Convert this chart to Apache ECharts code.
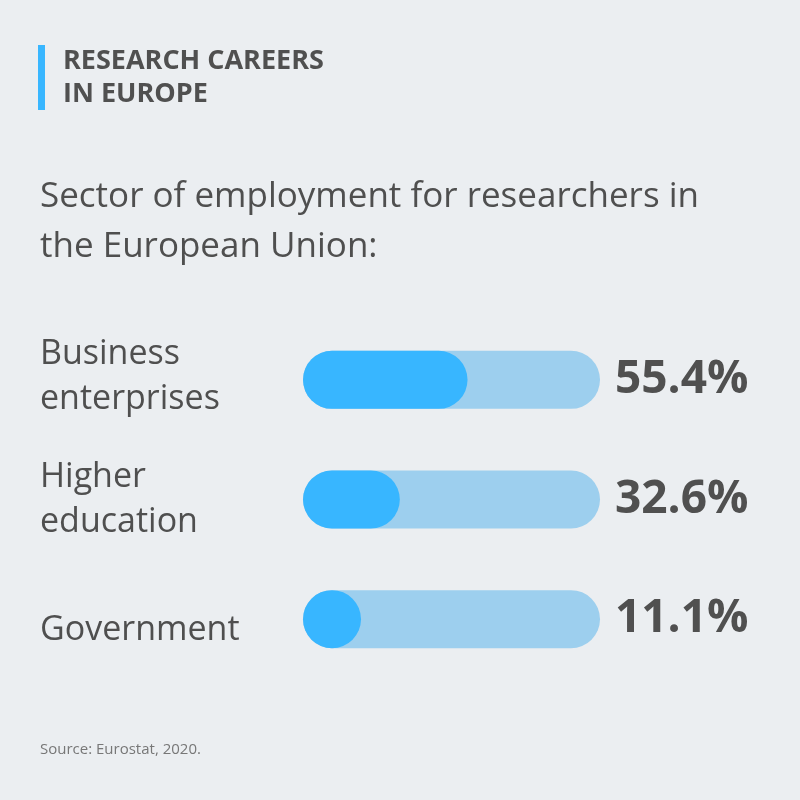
<!DOCTYPE html>
<html lang="en">
<head>
<meta charset="UTF-8">
<title>Research careers in Europe</title>
<script src="https://cdn.jsdelivr.net/npm/echarts@6/dist/echarts.min.js"></script>
<style>
  body { margin: 0; padding: 0; background: #ebeef1; }
  #chart { width: 800px; height: 800px; }
</style>
</head>
<body>
<div id="chart"></div>
<script>
  // data
  var sectors = ['Business\nenterprises', 'Higher\neducation', 'Government'];
  var shares = [55.4, 32.6, 11.1];
  var full = [100, 100, 100];

  var myChart = echarts.init(document.getElementById('chart'));

  var option = {
    backgroundColor: '#ebeef1',
    textStyle: { fontFamily: 'Open Sans' },
    graphic: [
      { type: 'rect', left: 38, top: 45, shape: { width: 7, height: 65 }, style: { fill: '#38b6ff' } },
      {
        type: 'text', left: 63, top: 45,
        style: {
          text: 'RESEARCH CAREERS\nIN EUROPE',
          font: 'bold 27px "Open Sans"', fill: '#505050', lineHeight: 33
        }
      },
      {
        type: 'text', left: 40, top: 172,
        style: {
          text: 'Sector of employment for researchers in\nthe European Union:',
          font: '35px "Open Sans"', fill: '#4f4f4f', lineHeight: 50
        }
      },
      {
        type: 'text', left: 40, top: 742,
        style: { text: 'Source: Eurostat, 2020.', font: '15px "Open Sans"', fill: '#777777' }
      }
    ],
    grid: { left: 303, right: 200, top: 320, bottom: 121 },
    xAxis: { type: 'value', min: 0, max: 100, show: false },
    yAxis: {
      type: 'category',
      data: sectors,
      inverse: true,
      axisLine: { show: false },
      axisTick: { show: false },
      axisLabel: {
        align: 'left',
        margin: 263,
        fontSize: 34,
        lineHeight: 45,
        color: '#4f4f4f',
        fontFamily: 'Open Sans',
        formatter: function (v, i) {
          if (i === 0) return '{up|' + v.split('\n')[0] + '}\n{up|' + v.split('\n')[1] + '}';
          if (i === 2) return '{down|' + v + '}';
          return v;
        },
        rich: {
          up: { fontSize: 34, lineHeight: 45, color: '#4f4f4f', padding: [0, 0, 6, 0] },
          down: { fontSize: 34, lineHeight: 45, color: '#4f4f4f', padding: [22, 0, 0, 0] }
        }
      }
    },
    series: [
      {
        type: 'bar',
        data: full,
        barWidth: 58,
        silent: true,
        itemStyle: { color: '#9dcfee', borderRadius: 29 },
        label: {
          show: true,
          position: 'right',
          distance: 15,
          formatter: function (p) { return shares[p.dataIndex].toFixed(1) + '%'; },
          fontSize: 46,
          fontWeight: 'bold',
          color: '#505050',
          fontFamily: 'Open Sans'
        }
      },
      {
        type: 'bar',
        data: shares,
        barWidth: 58,
        barGap: '-100%',
        barMinHeight: 58,
        itemStyle: { color: '#38b6ff', borderRadius: 29 }
      }
    ]
  };

  myChart.setOption(option);
</script>
</body>
</html>
